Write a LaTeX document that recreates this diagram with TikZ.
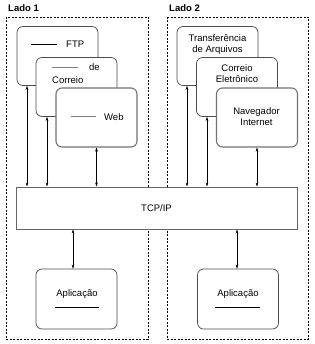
\documentclass[tikz,border=0pt]{standalone}
\usepackage{fontspec}
\setmainfont{Liberation Sans}
\usetikzlibrary{arrows.meta}
\begin{document}
\begin{tikzpicture}[x=1pt,y=-1pt,
  font=\fontsize{9.5}{11}\selectfont,
  >={Stealth[length=4pt,width=2.6pt]},
  lado/.style={draw,dashed,dash pattern=on 2pt off 1.5pt,line width=0.5pt},
  caixa/.style={draw=black!70,fill=white,rounded corners=6pt,line width=0.7pt,minimum width=81pt,minimum height=59pt,inner sep=0pt},
  frente/.style={caixa,draw=black!55,line width=1.1pt},
  rotulo/.style={inner sep=0pt,anchor=west},
  traco/.style={line width=0.6pt},
  tracocinza/.style={line width=1pt,black!50}]
\useasboundingbox (0,0) rectangle (314,344);
% lados
\draw[lado] (6,17) rectangle (148,339);
\draw[lado] (167,17) rectangle (308,339);
\node[rotulo,font=\fontsize{9.5}{11}\selectfont\bfseries] (lado1) at (8,8) {Lado 1};
\node[rotulo,font=\fontsize{9.5}{11}\selectfont\bfseries] (lado2) at (169,8) {Lado 2};
% lado 1
\node[caixa] (ftp) at (57.5,56) {};
\draw[traco] (31,44) -- (57,44);
\node[rotulo] (ftptxt) at (66,44) {FTP};
\node[caixa] (correio) at (76.5,87) {};
\draw[tracocinza] (52,68) -- (78,68);
\node[rotulo] (de) at (89,67) {de};
\node[rotulo] (correiotxt) at (52,80) {Correio};
\node[frente] (web) at (96.5,117.5) {};
\draw[tracocinza] (71,117) -- (96,117);
\node[rotulo] (webtxt) at (104,117) {Web};
% lado 2
\node[caixa] (arq) at (217.5,56) {};
\node[align=center,inner sep=0pt] (arqtxt) at (217.5,44.5) {Transferência\\de Arquivos};
\node[caixa] (email) at (237,87) {};
\node[align=center,inner sep=0pt] (emailtxt) at (237,73.5) {Correio\\Eletrônico};
\node[frente] (nav) at (257,117.5) {};
\node[align=center,inner sep=0pt] (navtxt) at (256.5,116.5) {Navegador\\Internet};
% TCP/IP
\node[draw=black!60,fill=white,line width=1pt,minimum width=281pt,minimum height=42pt,inner sep=0pt] (tcp) at (156.5,208) {TCP/IP};
% aplicacoes
\node[caixa,minimum height=60pt] (app1) at (76.5,299) {};
\node[inner sep=0pt] (app1txt) at (77,294) {Aplicação};
\draw[traco] (55,307) -- (99,307);
\node[caixa,minimum height=60pt] (app2) at (238,299) {};
\node[inner sep=0pt] (app2txt) at (238,294) {Aplicação};
\draw[traco] (215,307) -- (260,307);
% conexoes
\draw[<->] (tcp.north -| 27,0) -- (ftp.south -| 27,0);
\draw[<->] (tcp.north -| 47,0) -- (correio.south -| 47,0);
\draw[<->] (tcp.north -| web.south) -- (web.south);
\draw[<->] (tcp.north -| 187,0) -- (arq.south -| 187,0);
\draw[<->] (tcp.north -| 207,0) -- (email.south -| 207,0);
\draw[<->] (tcp.north -| nav.south) -- (nav.south);
\draw[<->] (tcp.south -| 73,0) -- (app1.north -| 73,0);
\draw[<->] (tcp.south -| 237,0) -- (app2.north -| 237,0);
\end{tikzpicture}
\end{document}
